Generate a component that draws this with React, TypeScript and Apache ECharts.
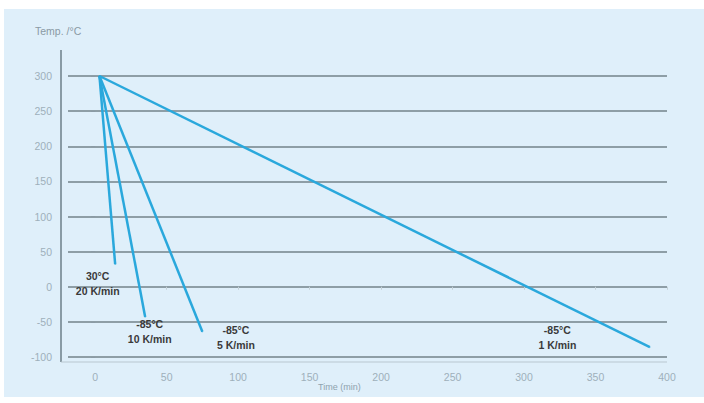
import React, { useEffect, useRef } from "react";
import * as echarts from "echarts";

const startTime = 3;
const startTemp = 300;
const rateNames = ["20 K/min", "10 K/min", "5 K/min", "1 K/min"];
const endTimes = [14, 35, 75, 388];
const endTemps = [32, -43, -64, -86];
const endTempLabels = ["30°C", "-85°C", "-85°C", "-85°C"];
const labelOffsets = [
  [-17, 5],
  [5, 0],
  [34, -9],
  [-92, -24],
];
const xTicks = [0, 50, 100, 150, 200, 250, 300, 350, 400];

const FONT = "Liberation Sans, Arial, sans-serif";

export default function App() {
  const ref = useRef<HTMLDivElement>(null);
  useEffect(() => {
    if (!ref.current) return;
    const chart = echarts.init(ref.current, null, { renderer: "svg" });
    const series = rateNames.map((name, i) => ({
      type: "line",
      name,
      symbol: "circle",
      symbolSize: 1,
      itemStyle: { color: "#2aa8dc" },
      lineStyle: { color: "#2aa8dc", width: 2.5 },
      data: [
        [startTime, startTemp],
        {
          value: [endTimes[i], endTemps[i]],
          label: {
            show: true,
            formatter: endTempLabels[i] + "\n" + name,
            position: labelOffsets[i],
            align: "center",
            verticalAlign: "top",
            fontSize: 10.5,
            lineHeight: 15,
            fontWeight: "bold",
            color: "#3a3a3a",
            fontFamily: FONT,
          },
        },
      ],
    }));
    chart.setOption({
      animation: false,
      backgroundColor: "#ffffff",
      grid: { left: 68, right: 37, top: 76, bottom: 46 },
      xAxis: {
        type: "value",
        min: -19,
        max: 400,
        offset: 5,
        axisLine: { show: false },
        splitLine: { show: false },
        axisTick: {
          show: true,
          customValues: xTicks,
          length: 3,
          lineStyle: { color: "#c3d0d7" },
        },
        axisLabel: {
          customValues: xTicks,
          color: "#9eb0ba",
          fontSize: 10.5,
          margin: 9,
          fontFamily: FONT,
        },
      },
      yAxis: {
        type: "value",
        min: -100,
        max: 300,
        interval: 50,
        offset: 7,
        axisLine: { show: false },
        axisTick: { show: true, length: 4, lineStyle: { color: "#8a9aa4" } },
        axisLabel: {
          color: "#9eb0ba",
          fontSize: 10.5,
          margin: 9,
          fontFamily: FONT,
        },
        splitLine: { show: true, lineStyle: { color: "#8e9ea6", width: 2 } },
      },
      graphic: [
        {
          type: "rect",
          z: -10,
          shape: { x: 4, y: 9, width: 700, height: 388 },
          style: { fill: "#dfeffa" },
          silent: true,
        },
        {
          type: "line",
          z: 10,
          shape: { x1: 61, y1: 50, x2: 61, y2: 362 },
          style: { stroke: "#6d7f88", lineWidth: 1.5 },
        },
        {
          type: "line",
          z: 10,
          shape: { x1: 61, y1: 362, x2: 667, y2: 362 },
          style: { stroke: "#b9c7cf", lineWidth: 1.2 },
        },
        {
          type: "text",
          left: 35,
          top: 25,
          style: {
            text: "Temp. /°C",
            fill: "#8a9aa4",
            fontSize: 10.5,
            fontFamily: FONT,
          },
        },
        {
          type: "text",
          left: 318,
          top: 382,
          style: {
            text: "Time (min)",
            fill: "#8ea2ae",
            fontSize: 9,
            fontFamily: FONT,
          },
        },
      ],
      series,
    });
    return () => chart.dispose();
  }, []);
  return (
    <div
      ref={ref}
      style={{ position: "absolute", left: 0, top: 0, width: 704, height: 403 }}
    />
  );
}
